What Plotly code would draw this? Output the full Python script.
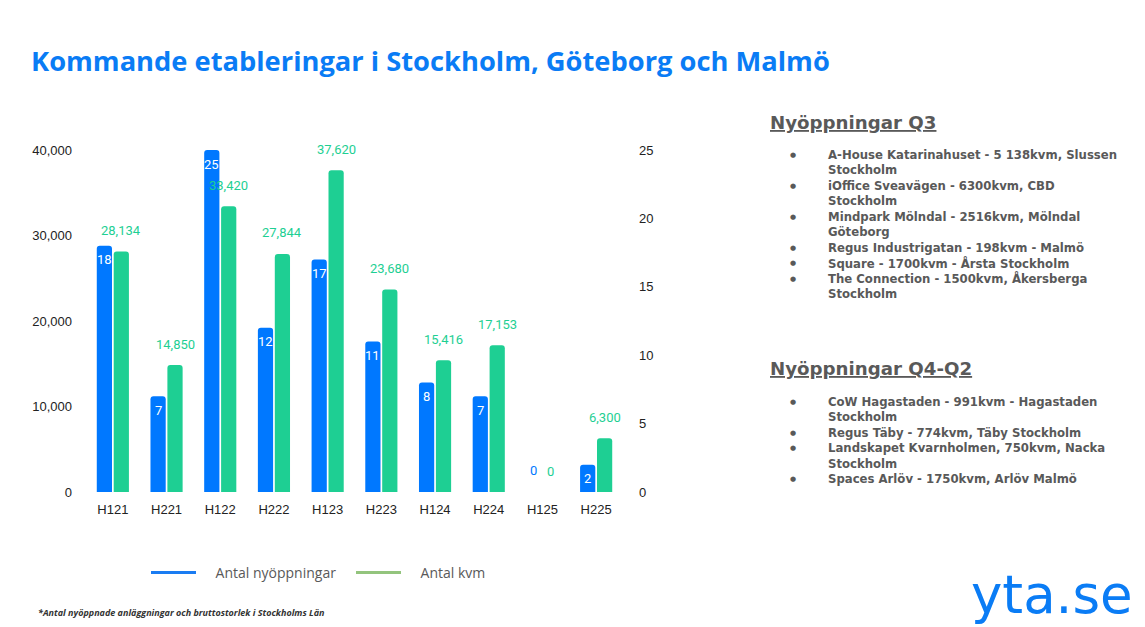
import plotly.graph_objects as go

W, H = 1145, 627
OFF = 8  # page body margin of the rendered html

categories = ["H121", "H221", "H122", "H222", "H123", "H223", "H124", "H224", "H125", "H225"]
openings = [18, 7, 25, 12, 17, 11, 8, 7, 0, 2]
kvm = [28134, 14850, 33420, 27844, 37620, 23680, 15416, 17153, 0, 6300]

left_ticks = [0, 10000, 20000, 30000, 40000]
right_ticks = [0, 5, 10, 15, 20, 25]

title_text = "Kommande etableringar i Stockholm, Göteborg och Malmö"
q3_heading = "Nyöppningar Q3"
q3_items = [
    ["A-House Katarinahuset - 5 138kvm, Slussen", "Stockholm"],
    ["iOffice Sveavägen - 6300kvm, CBD", "Stockholm"],
    ["Mindpark Mölndal - 2516kvm, Mölndal", "Göteborg"],
    ["Regus Industrigatan - 198kvm - Malmö"],
    ["Square - 1700kvm - Årsta Stockholm"],
    ["The Connection - 1500kvm, Åkersberga", "Stockholm"],
]
q4_heading = "Nyöppningar Q4-Q2"
q4_items = [
    ["CoW Hagastaden - 991kvm - Hagastaden", "Stockholm"],
    ["Regus Täby - 774kvm, Täby Stockholm"],
    ["Landskapet Kvarnholmen, 750kvm, Nacka", "Stockholm"],
    ["Spaces Arlöv - 1750kvm, Arlöv Malmö"],
]
footnote = "*Antal nyöppnade anläggningar och bruttostorlek i Stockholms Län"
logo = "yta.se"

BLUE = "#0078ff"
GREEN = "#1ecf93"
GRAY = "#595959"


def px(x):
    return (x - OFF) / W


def py(y):
    return 1 - (y - OFF) / H


fig = go.Figure()
fig.add_trace(go.Bar(x=categories, y=openings, name="Antal nyöppningar",
                     marker=dict(color=BLUE, line=dict(width=0)),
                     offsetgroup="a", yaxis="y2", showlegend=False))
fig.add_trace(go.Bar(x=categories, y=kvm, name="Antal kvm",
                     marker=dict(color=GREEN, line=dict(width=0)),
                     offsetgroup="b", yaxis="y", showlegend=False))
# legend entries as lines
NB = "\u00a0" * 4
fig.add_trace(go.Scatter(x=[None], y=[None], mode="lines", name=NB + "Antal nyöppningar",
                         line=dict(color="#1a7cf2", width=3)))
fig.add_trace(go.Scatter(x=[None], y=[None], mode="lines", name=NB + "Antal kvm",
                         line=dict(color="#93c47d", width=3)))

annotations = []
# data labels
for c, v in zip(categories, kvm):
    annotations.append(dict(x=c, y=v, xref="x", yref="y", text=f"{v:,}", showarrow=False,
                            xshift=8.5, yshift=21, yanchor="middle",
                            font=dict(family="Roboto", size=13, color=GREEN)))
for c, v in zip(categories, openings):
    if v > 0:
        annotations.append(dict(x=c, y=v, xref="x", yref="y2", text=str(v), showarrow=False,
                                xshift=-8.5, yshift=-14, yanchor="middle",
                                font=dict(family="Roboto", size=13, color="white")))
    else:
        annotations.append(dict(x=c, y=v, xref="x", yref="y2", text=str(v), showarrow=False,
                                xshift=-8.5, yshift=22, yanchor="middle",
                                font=dict(family="Roboto", size=13, color=BLUE)))

# title
annotations.append(dict(x=px(29), y=py(61), xref="paper", yref="paper", text=f"<b>{title_text}</b>",
                        showarrow=False, xanchor="left", yanchor="middle",
                        font=dict(family="Open Sans", size=27.3, color="#0a7cf5")))


# right panel
def add_section(heading, items, head_y, first_y):
    annotations.append(dict(x=px(768), y=py(head_y), xref="paper", yref="paper",
                            text=f"<b><u>{heading}</u></b>", showarrow=False,
                            xanchor="left", yanchor="middle",
                            font=dict(family="DejaVu Sans", size=18.2, color=GRAY)))
    line = 0
    step = 15.45
    for item in items:
        annotations.append(dict(x=px(793), y=py(first_y + line * step), xref="paper", yref="paper",
                                text="●", showarrow=False, xanchor="center", yanchor="middle",
                                font=dict(family="DejaVu Sans", size=7, color=GRAY)))
        for t in item:
            annotations.append(dict(x=px(826), y=py(first_y + line * step), xref="paper", yref="paper",
                                    text=f"<b>{t}</b>", showarrow=False, xanchor="left", yanchor="middle",
                                    font=dict(family="DejaVu Sans", size=11.7, color=GRAY)))
            line += 1


add_section(q3_heading, q3_items, 122, 155)
add_section(q4_heading, q4_items, 368, 402)

annotations.append(dict(x=px(36), y=py(612), xref="paper", yref="paper",
                        text=f"<b><i>{footnote}</i></b>", showarrow=False, xanchor="left", yanchor="middle",
                        font=dict(family="Open Sans", size=9, color="#333333")))
annotations.append(dict(x=px(1135), y=py(594), xref="paper", yref="paper",
                        text=logo, showarrow=False, xanchor="right", yanchor="middle",
                        font=dict(family="DejaVu Sans", size=53, color="#0a7cf5")))

fig.update_layout(
    width=W, height=H,
    margin=dict(l=0, r=0, t=0, b=0, autoexpand=False),
    paper_bgcolor="white", plot_bgcolor="white",
    barmode="group", bargap=0.37, bargroupgap=0.1, barcornerradius=3,
    xaxis=dict(domain=[px(86), px(623)], showgrid=False, zeroline=False, showline=False,
               ticks="", tickfont=dict(family="Liberation Sans", size=13, color="#222222"),
               ticklabelstandoff=8, automargin=False),
    yaxis=dict(domain=[py(492), py(150)], range=[0, 40000], tickvals=left_ticks,
               tickformat=",", showgrid=False, zeroline=False, showline=False, ticks="",
               tickfont=dict(family="Liberation Sans", size=13, color="#222222"),
               ticklabelstandoff=13, automargin=False),
    yaxis2=dict(overlaying="y", side="right", range=[0, 25], tickvals=right_ticks,
                showgrid=False, zeroline=False, showline=False, ticks="",
                tickfont=dict(family="Liberation Sans", size=13, color="#222222"),
                ticklabelstandoff=15, automargin=False),
    legend=dict(orientation="h", x=px(146), y=py(573), xanchor="left", yanchor="middle",
                font=dict(family="Open Sans", size=14, color=GRAY), itemwidth=45,
                entrywidth=145, entrywidthmode="pixels", bgcolor="rgba(0,0,0,0)"),
    annotations=annotations,
    showlegend=True,
)

fig.write_html("out.html")
